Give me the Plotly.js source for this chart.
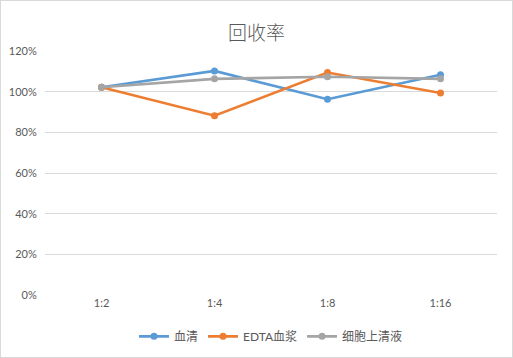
<!DOCTYPE html>
<html><head><meta charset="utf-8">
<script src="https://cdn.plot.ly/plotly-3.0.1.min.js"></script>
<style>html,body{margin:0;padding:0;background:#fff}#chart{width:511px;height:356px;border:1px solid #d9d9d9}</style>
</head><body><div id="chart"></div>
<script>
const categories = ['1:2', '1:4', '1:8', '1:16'];
const serum = [102.2, 110.2, 96.3, 108.3];
const edtaPlasma = [102.2, 88.2, 109.4, 99.3];
const cellSupernatant = [102.2, 106.3, 107.3, 106.3];
const seriesNames = ['血清', 'EDTA血浆', '细胞上清液'];
const colors = ['#5b9bd5', '#ed7d31', '#a5a5a5'];
const fontFam = 'Lato, "Noto Sans CJK SC", sans-serif';
const data = [serum, edtaPlasma, cellSupernatant].map((v, i) => ({
  x: categories, y: v, name: seriesNames[i], type: 'scatter', mode: 'lines+markers',
  line: {color: colors[i], width: 2.6}, marker: {color: colors[i], size: 7}
}));
const layout = {
  width: 511, height: 356,
  margin: {l: 44, r: 15, t: 50, b: 62},
  paper_bgcolor: '#fff', plot_bgcolor: '#fff',
  title: {text: '回收率', font: {family: '"Noto Sans CJK SC", sans-serif', size: 19, color: '#595959', weight: 300}, x: 0.5, xanchor: 'center', y: 0.91, yref: 'container', yanchor: 'middle'},
  xaxis: {type: 'category', showgrid: false, zeroline: false, showline: false, ticks: '',
    tickfont: {family: fontFam, size: 11, color: '#595959'}, range: [-0.5, 3.5]},
  yaxis: {range: [0, 120], dtick: 20, ticksuffix: '%', gridcolor: '#d9d9d9', gridwidth: 1,
    zeroline: false, showline: false, tickfont: {family: fontFam, size: 11, color: '#595959'}, ticklen: 5, ticks: 'outside', tickcolor: 'rgba(0,0,0,0)'},
  showlegend: true,
  legend: {orientation: 'h', x: 0.5, xanchor: 'center', y: 0.058, yref: 'container', yanchor: 'middle',
    font: {family: fontFam, size: 12, color: '#595959'}, itemwidth: 30, tracegroupgap: 0},
  hovermode: false
};
Plotly.newPlot('chart', data, layout, {displayModeBar: false, staticPlot: true});
</script></body></html>
